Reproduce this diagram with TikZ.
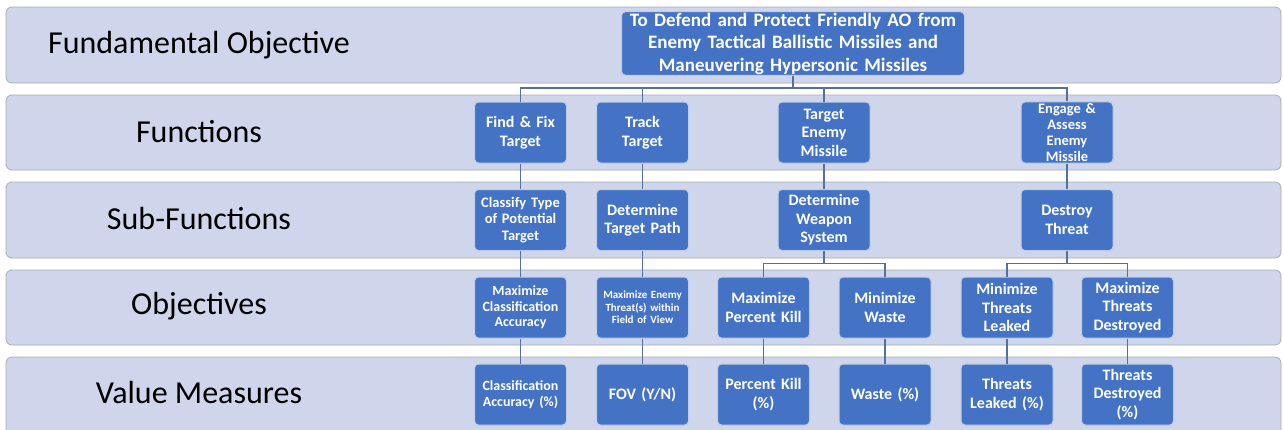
\documentclass[tikz,border=0pt]{standalone}
\usepackage{fontspec}
\setmainfont{Carlito}
\definecolor{bandfill}{HTML}{CFD5EA}
\definecolor{bandline}{HTML}{A8ACB6}
\definecolor{boxblue}{HTML}{4472C4}
\definecolor{connc}{HTML}{56709A}
\begin{document}
\begin{tikzpicture}[x=1pt,y=-1pt,
  bandbox/.style={fill=bandfill,draw=bandline,line width=0.8pt,rounded corners=6pt},
  lbl/.style={font=\fontsize{32}{37}\selectfont,text=black},
  fbox/.style={fill=boxblue,draw=white!65!boxblue,line width=1pt,rounded corners=4pt,
    minimum width=92pt,minimum height=61pt,text width=90pt,align=center,text=white,
    inner sep=1pt,font=\bfseries\fontsize{16}{18.5}\selectfont},
  conn/.style={draw=connc,line width=1.8pt}]
\useasboundingbox (0,0) rectangle (1283,429);
\clip (0,0) rectangle (1283,429);
\fill[white] (0,0) rectangle (1283,429);
% bands
\draw[bandbox] (6,7) rectangle (1281,83);
\draw[bandbox] (6,95) rectangle (1281,170);
\draw[bandbox] (6,182) rectangle (1281,258);
\draw[bandbox] (6,270) rectangle (1281,345);
\draw[bandbox] (6,357) rectangle (1281,445);
% labels
\node[lbl] (l1) at (199,45) {Fundamental Objective};
\node[lbl] (l2) at (199,132) {Functions};
\node[lbl] (l3) at (199,219) {Sub-Functions};
\node[lbl] (l4) at (199,306) {Objectives};
\node[lbl] (l5) at (199,393) {Value Measures};
% fundamental objective
\node[fbox,minimum width=343pt,minimum height=63pt,text width=339pt,
  font=\bfseries\fontsize{19}{22.5}\selectfont] (fo) at (793,43.5)
  {To Defend and Protect Friendly AO from\\Enemy Tactical Ballistic Missiles and\\Maneuvering Hypersonic Missiles};
% functions
\node[fbox] (ff) at (520.5,132.5) {Find \& Fix\\Target};
\node[fbox] (tt) at (642.5,132.5) {Track\\Target};
\node[fbox] (tem) at (824,132.5) {Target\\Enemy\\Missile};
\node[fbox,font=\bfseries\fontsize{14.5}{16.3}\selectfont] (ea) at (1067,132.5) {Engage \&\\Assess\\Enemy\\Missile};
% sub-functions
\node[fbox,font=\bfseries\fontsize{14.5}{16.5}\selectfont] (ct) at (520.5,220) {Classify Type\\of Potential\\Target};
\node[fbox] (dtp) at (642.5,220) {Determine\\Target Path};
\node[fbox] (dws) at (824,220) {Determine\\Weapon\\System};
\node[fbox] (dt) at (1067,220) {Destroy\\Threat};
% objectives
\node[fbox,font=\bfseries\fontsize{14}{15.5}\selectfont] (mca) at (520.5,307.5) {Maximize\\Classification\\Accuracy};
\node[fbox,font=\bfseries\fontsize{11}{12.5}\selectfont] (met) at (642.5,307.5) {Maximize Enemy\\Threat(s) within\\Field of View};
\node[fbox] (mpk) at (763.5,307.5) {Maximize\\Percent Kill};
\node[fbox] (mw) at (885,307.5) {Minimize\\Waste};
\node[fbox] (mtl) at (1007,307.5) {Minimize\\Threats\\Leaked};
\node[fbox] (mtd) at (1127.5,307.5) {Maximize\\Threats\\Destroyed};
% value measures
\node[fbox,font=\bfseries\fontsize{14}{16}\selectfont] (ca) at (520.5,394.5) {Classification\\Accuracy (\%)};
\node[fbox] (fov) at (642.5,394.5) {FOV (Y/N)};
\node[fbox] (pk) at (763.5,394.5) {Percent Kill\\(\%)};
\node[fbox] (ws) at (885,394.5) {Waste (\%)};
\node[fbox] (tl) at (1007,394.5) {Threats\\Leaked (\%)};
\node[fbox] (td) at (1127.5,394.5) {Threats\\Destroyed\\(\%)};
% connectors
\coordinate (busA) at (793,88);
\coordinate (busB) at (824,263.5);
\coordinate (busC) at (1067,263.5);
\draw[conn] (fo.south) -- (busA) -| (ff.north);
\draw[conn] (busA) -| (tt.north);
\draw[conn] (busA) -| (tem.north);
\draw[conn] (busA) -| (ea.north);
\draw[conn] (ff.south) -- (ct.north);
\draw[conn] (tt.south) -- (dtp.north);
\draw[conn] (tem.south) -- (dws.north);
\draw[conn] (ea.south) -- (dt.north);
\draw[conn] (ct.south) -- (mca.north);
\draw[conn] (dtp.south) -- (met.north);
\draw[conn] (dws.south) -- (busB) -| (mpk.north);
\draw[conn] (busB) -| (mw.north);
\draw[conn] (dt.south) -- (busC) -| (mtl.north);
\draw[conn] (busC) -| (mtd.north);
\draw[conn] (mca.south) -- (ca.north);
\draw[conn] (met.south) -- (fov.north);
\draw[conn] (mpk.south) -- (pk.north);
\draw[conn] (mw.south) -- (ws.north);
\draw[conn] (mtl.south) -- (tl.north);
\draw[conn] (mtd.south) -- (td.north);
\end{tikzpicture}
\end{document}
